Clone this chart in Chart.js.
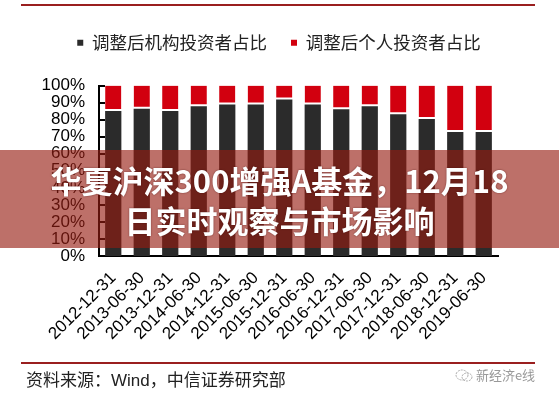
<!DOCTYPE html>
<html>
<head>
<meta charset="utf-8">
<script src="https://cdn.jsdelivr.net/npm/chart.js@4"></script>
<style>
  html, body { margin: 0; padding: 0; background: #fff; }
  #wrap { position: relative; width: 559px; height: 399px; overflow: hidden; }
  #graficoInvestidores { position: absolute; left: 0; top: 0; }
  .linha { position: absolute; left: 21px; width: 514px; height: 2px; background: #9a1f1f; }
  #faixa {
    position: absolute; left: 0; top: 150px; width: 559px; height: 98px;
    background: rgba(150, 28, 18, 0.63);
  }
  #titulo {
    position: absolute; left: 0; top: 160px; width: 559px; text-align: center;
    color: #fff; font-family: "Noto Sans CJK SC", sans-serif; font-weight: 700;
    font-size: 31px; line-height: 40px;
    text-shadow: 0 0 2px rgba(60, 0, 0, 0.6);
  }
  #fonte {
    position: absolute; left: 26px; top: 370px;
    font-family: "Liberation Sans", "Noto Sans CJK SC", sans-serif; font-size: 17px;
    color: #222; line-height: 22px;
  }
  #marca {
    position: absolute; left: 455px; top: 367px;
    font-family: "Noto Sans CJK SC", sans-serif; font-size: 13px; color: #999;
    line-height: 16px;
  }
</style>
</head>
<body>
<div id="wrap">
  <canvas id="graficoInvestidores" width="559" height="399"></canvas>
  <div class="linha" style="top:4px"></div>
  <div class="linha" style="top:362px"></div>
  <div id="faixa"></div>
  <div id="titulo">华夏沪深300增强A基金，12月18<br>日实时观察与市场影响</div>
  <div id="fonte">资料来源：Wind，中信证券研究部</div>
  <div id="marca">
    <svg width="18" height="13" viewBox="0 0 18 13" style="vertical-align:-2px">
      <ellipse cx="7" cy="6" rx="6" ry="5" fill="none" stroke="#aaa" stroke-width="1" stroke-dasharray="2 1"/>
      <ellipse cx="12" cy="8" rx="5" ry="4" fill="none" stroke="#aaa" stroke-width="1" stroke-dasharray="2 1"/>
    </svg> 新经济e线
  </div>
</div>
<script>
document.addEventListener("DOMContentLoaded", function () {

    const ctx = document.getElementById("graficoInvestidores");

    const datas = [
        "2012-12-31", "2013-06-30", "2013-12-31", "2014-06-30",
        "2014-12-31", "2015-06-30", "2015-12-31", "2016-06-30",
        "2016-12-31", "2017-06-30", "2017-12-31", "2018-06-30",
        "2018-12-31", "2019-06-30"
    ];

    const nomeInstitucional = "调整后机构投资者占比";
    const nomeIndividual = "调整后个人投资者占比";

    // % dos investidores
    const institucional = [85.1, 86.3, 85.1, 87.8, 88.9, 88.9, 91.8, 88.8, 86.1, 87.8, 83.2, 80.3, 72.8, 72.8];
    const individual = [14.9, 13.7, 14.9, 12.2, 11.1, 11.1, 8.2, 11.2, 13.9, 12.2, 16.8, 19.7, 27.2, 27.2];

    const ticksY = [0, 10, 20, 30, 40, 50, 60, 70, 80, 90, 100];

    // espaço extra embaixo da legenda e um pouco à direita
    const ajusteLegenda = {
        id: "ajusteLegenda",
        beforeInit(chart) {
            const legenda = chart.legend;
            const fitOriginal = legenda.fit;
            const drawOriginal = legenda.draw;
            legenda.fit = function () {
                fitOriginal.bind(legenda)();
                this.height += 24;
            };
            legenda.draw = function () {
                const c = chart.ctx;
                c.save();
                c.translate(10, 0);
                drawOriginal.apply(legenda, arguments);
                c.restore();
            };
        }
    };

    // marcas curtas para dentro do eixo Y
    const marcasInternas = {
        id: "marcasInternas",
        afterDraw(chart) {
            const y = chart.scales.y;
            const c = chart.ctx;
            c.save();
            c.strokeStyle = "#000";
            c.lineWidth = 2;
            ticksY.forEach(function (v) {
                const py = Math.round(y.getPixelForValue(v));
                c.beginPath();
                c.moveTo(chart.chartArea.left, py);
                c.lineTo(chart.chartArea.left + 6, py);
                c.stroke();
            });
            c.restore();
        }
    };

    new Chart(ctx, {
        type: "bar",
        data: {
            labels: datas,
            datasets: [{
                label: nomeInstitucional,
                data: institucional,
                backgroundColor: "#2b2b2b",
                borderWidth: 0,
                barPercentage: 0.57,
                categoryPercentage: 1
            }, {
                label: nomeIndividual,
                data: individual,
                backgroundColor: "#d2000f",
                borderColor: "#ffffff",
                borderWidth: { top: 0, left: 0, right: 0, bottom: 2 },
                borderSkipped: false,
                barPercentage: 0.57,
                categoryPercentage: 1
            }]
        },
        options: {
            responsive: false,
            animation: false,
            devicePixelRatio: 1,
            layout: {
                padding: { top: 10, left: 40, right: 61, bottom: 51 }
            },
            plugins: {
                tooltip: { enabled: false },
                legend: {
                    position: "top",
                    labels: {
                        boxWidth: 6,
                        boxHeight: 6,
                        padding: 24,
                        color: "#222",
                        font: { size: 17.5, family: "'Noto Sans CJK SC', sans-serif" },
                        generateLabels: function (chart) {
                            return Chart.defaults.plugins.legend.labels.generateLabels(chart).map(function (l) {
                                l.lineWidth = 0;
                                return l;
                            });
                        }
                    }
                }
            },
            scales: {
                x: {
                    stacked: true,
                    grid: { display: false },
                    border: { display: true, color: "#000", width: 2 },
                    ticks: {
                        color: "#000",
                        autoSkip: false,
                        minRotation: 45,
                        maxRotation: 45,
                        padding: 4,
                        font: { size: 17, family: "'Liberation Sans', Arial, sans-serif" }
                    }
                },
                y: {
                    stacked: true,
                    min: 0,
                    max: 100,
                    afterBuildTicks: function (scale) {
                        scale.ticks = ticksY.map(function (v) { return { value: v }; });
                    },
                    afterFit: function (scale) {
                        scale.width = 59;
                    },
                    grid: { display: false, drawTicks: false },
                    border: { display: true, color: "#000", width: 2 },
                    ticks: {
                        color: "#000",
                        padding: 14,
                        autoSkip: false,
                        font: { size: 17, family: "'Liberation Sans', Arial, sans-serif" },
                        callback: function (v) { return v + "%"; }
                    }
                }
            }
        },
        plugins: [ajusteLegenda, marcasInternas]
    });

});
</script>
</body>
</html>
